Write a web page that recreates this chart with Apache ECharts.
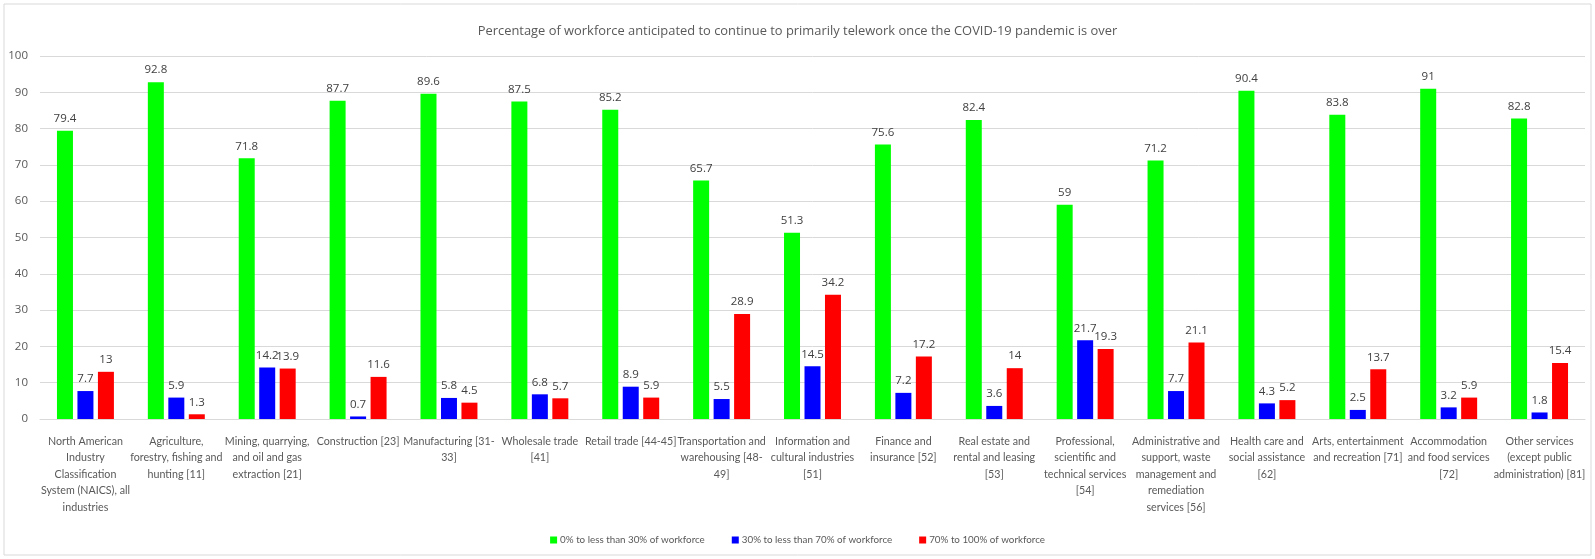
<!DOCTYPE html>
<html><head><meta charset="utf-8">
<script src="https://cdn.jsdelivr.net/npm/echarts@6/dist/echarts.min.js"></script>
<style>html,body{margin:0;padding:0;background:#fff}#c{width:1595px;height:559px}</style>
</head><body><div id="c"></div>
<script>
const categories = [
 "North American\nIndustry\nClassification\nSystem (NAICS), all\nindustries",
 "Agriculture,\nforestry, fishing and\nhunting [11]",
 "Mining, quarrying,\nand oil and gas\nextraction [21]",
 "Construction [23]",
 "Manufacturing [31-\n33]",
 "Wholesale trade\n[41]",
 "Retail trade [44-45]",
 "Transportation and\nwarehousing [48-\n49]",
 "Information and\ncultural industries\n[51]",
 "Finance and\ninsurance [52]",
 "Real estate and\nrental and leasing\n[53]",
 "Professional,\nscientific and\ntechnical services\n[54]",
 "Administrative and\nsupport, waste\nmanagement and\nremediation\nservices [56]",
 "Health care and\nsocial assistance\n[62]",
 "Arts, entertainment\nand recreation [71]",
 "Accommodation\nand food services\n[72]",
 "Other services\n(except public\nadministration) [81]"
];
const seriesNames = ["0% to less than 30% of workforce","30% to less than 70% of workforce","70% to 100% of workforce"];
const low = [79.4,92.8,71.8,87.7,89.6,87.5,85.2,65.7,51.3,75.6,82.4,59,71.2,90.4,83.8,91,82.8];
const mid = [7.7,5.9,14.2,0.7,5.8,6.8,8.9,5.5,14.5,7.2,3.6,21.7,7.7,4.3,2.5,3.2,1.8];
const high = [13,1.3,13.9,11.6,4.5,5.7,5.9,28.9,34.2,17.2,14,19.3,21.1,5.2,13.7,5.9,15.4];
const yTicks = {min:0,max:100,interval:10};
const colors = ["#00ff00","#0000ff","#ff0000"];
const FONT = "Open Sans";
const NARROW = "Lato";
const chart = echarts.init(document.getElementById('c'));
const mk = (name,data,color)=>({
  name, type:'bar', data, barWidth:16, barGap:'28%',
  itemStyle:{color},
  label:{show:true,position:'top',distance:6,color:'#404040',fontSize:11.5,fontFamily:FONT}
});
chart.setOption({
  animation:false,
  backgroundColor:'#fff',
  graphic:[{type:'rect',shape:{x:4,y:4,width:1587,height:551},style:{fill:'none',stroke:'#d9d9d9',lineWidth:1}}],
  title:{text:'Percentage of workforce anticipated to continue to primarily telework once the COVID-19 pandemic is over',
    left:'center',top:20,textStyle:{color:'#595959',fontSize:12.9,fontWeight:'normal',fontFamily:FONT}},
  legend:{bottom:9,left:'center',itemWidth:7,itemHeight:7,itemGap:27,icon:'rect',
    textStyle:{color:'#595959',fontSize:9.8,fontFamily:NARROW,padding:[0,0,0,-2]}},
  grid:{left:40,right:10,top:56,bottom:140,containLabel:false,outerBoundsMode:'none'},
  xAxis:{type:'category',data:categories,
    axisLine:{lineStyle:{color:'#d9d9d9'}},axisTick:{show:false},
    axisLabel:{interval:0,color:'#595959',fontSize:10.7,fontFamily:NARROW,lineHeight:16.5,margin:14}},
  yAxis:{type:'value',min:yTicks.min,max:yTicks.max,interval:yTicks.interval,
    axisLine:{show:false},axisTick:{show:false},
    splitLine:{lineStyle:{color:'#d9d9d9'}},
    axisLabel:{color:'#595959',fontSize:11.5,fontFamily:FONT,margin:12}},
  series:[mk(seriesNames[0],low,colors[0]),mk(seriesNames[1],mid,colors[1]),mk(seriesNames[2],high,colors[2])]
});
</script></body></html>
